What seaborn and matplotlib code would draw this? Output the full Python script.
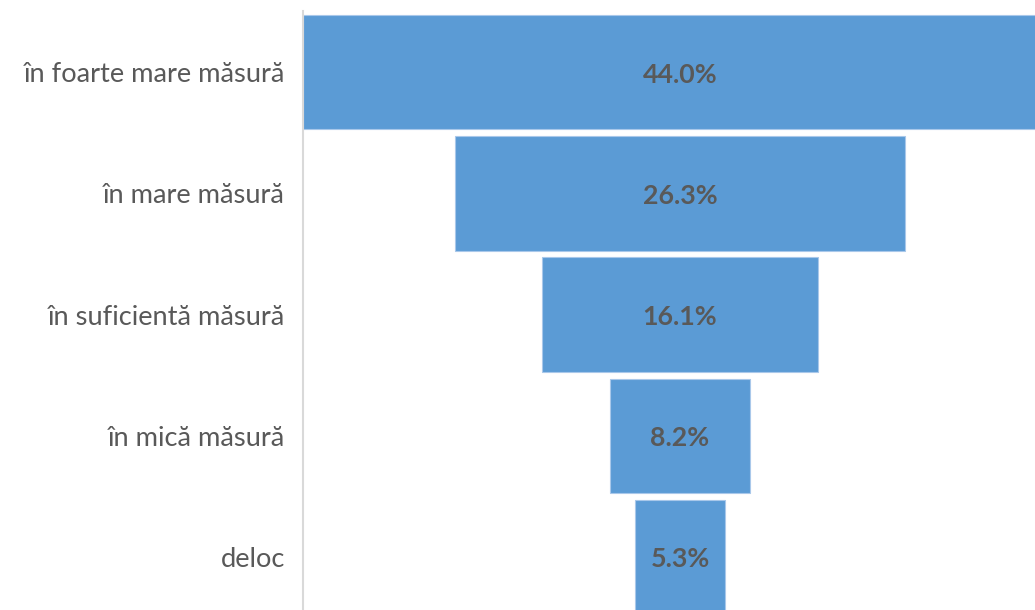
import numpy as np
import pandas as pd
import seaborn as sb
import matplotlib.pyplot as plt

categories = ["în foarte mare măsură", "în mare măsură", "în suficientă măsură",
              "în mică măsură", "deloc"]
values = [44.0, 26.3, 16.1, 8.2, 5.3]

sb.set_style("white")
plt.rcParams['font.family'] = ['Lato', 'DejaVu Sans']

df = pd.DataFrame({"cat": categories, "val": values})
vmax = max(values)

fig = plt.figure(figsize=(10.35, 6.1), dpi=100)
ax = fig.add_axes([303/1035, 0, 1 - 303/1035, (610-11)/610])

sb.barplot(data=df, x="val", y="cat", orient="h", color="#5B9BD5", saturation=1,
           width=0.944, edgecolor="#A9C8EA", linewidth=0.8, ax=ax)

# centre each bar to make the funnel
for patch, v in zip(ax.patches, values):
    patch.set_x((vmax - v) / 2)
    ax.text(vmax / 2, patch.get_y() + patch.get_height() / 2 + 0.02, f"{v:.1f}%",
            ha="center", va="center", fontsize=19.3, fontweight="bold", color="#595959")

ax.set_xlim(0, vmax * 732 / 754)
ax.set_ylim(4.437, -0.505)
ax.set_xlabel("")
ax.set_ylabel("")
ax.set_xticks([])
ax.tick_params(axis="y", length=0, pad=13, labelsize=19.6, labelcolor="#595959")
for s in ["top", "right", "bottom"]:
    ax.spines[s].set_visible(False)
ax.spines["left"].set_color("#D9D9D9")
ax.spines["left"].set_linewidth(1.5)

plt.savefig("out.png", dpi=100)
